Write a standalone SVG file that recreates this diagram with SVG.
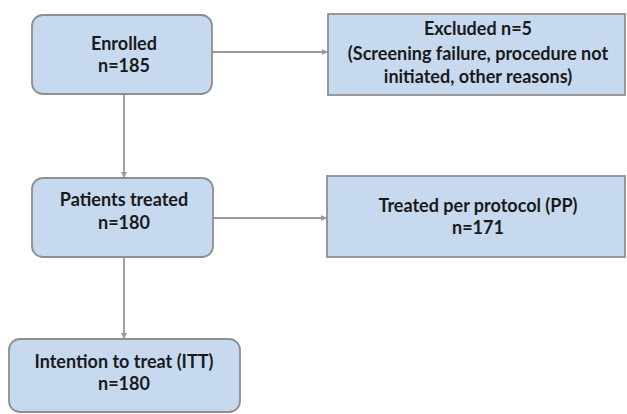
<svg xmlns="http://www.w3.org/2000/svg" width="627" height="414" viewBox="0 0 627 414">
<style>
.box{fill:#c6d9ef;stroke:#8e8e8e;stroke-width:1.8}
.t{font-family:Lato,"Open Sans",sans-serif;font-weight:bold;font-size:18px;fill:#1a1a1a;text-anchor:middle}
.c{stroke:#9a9a9a;stroke-width:1.8;fill:none;marker-end:url(#ah)}
</style>
<defs>
<marker id="ah" viewBox="0 0 10 10" refX="10" refY="5" markerWidth="6" markerHeight="6" orient="auto" markerUnits="userSpaceOnUse" >
<path d="M0,0 L10,5 L0,10 z" fill="#9a9a9a"/>
</marker>
</defs>
<rect width="627" height="414" fill="#ffffff"/>
<g id="connectors">
<path class="c" d="M212,52 H328"/>
<path class="c" d="M124,94 V178"/>
<path class="c" d="M213,218 H327"/>
<path class="c" d="M124,257 V339"/>
</g>
<g id="enrolled">
<rect class="box" x="32" y="15" width="180" height="79" rx="11"/>
<text class="t" x="124" y="50">Enrolled</text>
<text class="t" x="124" y="72">n=185</text>
</g>
<g id="excluded">
<rect class="box" x="328" y="14" width="297" height="81"/>
<text class="t" x="478" y="35">Excluded n=5</text>
<text class="t" x="478" y="60">(Screening failure, procedure not</text>
<text class="t" x="478" y="83">initiated, other reasons)</text>
</g>
<g id="treated">
<rect class="box" x="32" y="178" width="181" height="79" rx="11"/>
<text class="t" x="124" y="206">Patients treated</text>
<text class="t" x="124" y="229">n=180</text>
</g>
<g id="pp">
<rect class="box" x="327" y="176" width="298" height="81"/>
<text class="t" x="478" y="212">Treated per protocol (PP)</text>
<text class="t" x="478" y="234">n=171</text>
</g>
<g id="itt">
<rect class="box" x="9" y="339" width="231" height="73" rx="11"/>
<text class="t" x="124" y="368">Intention to treat (ITT)</text>
<text class="t" x="124" y="390">n=180</text>
</g>
</svg>
